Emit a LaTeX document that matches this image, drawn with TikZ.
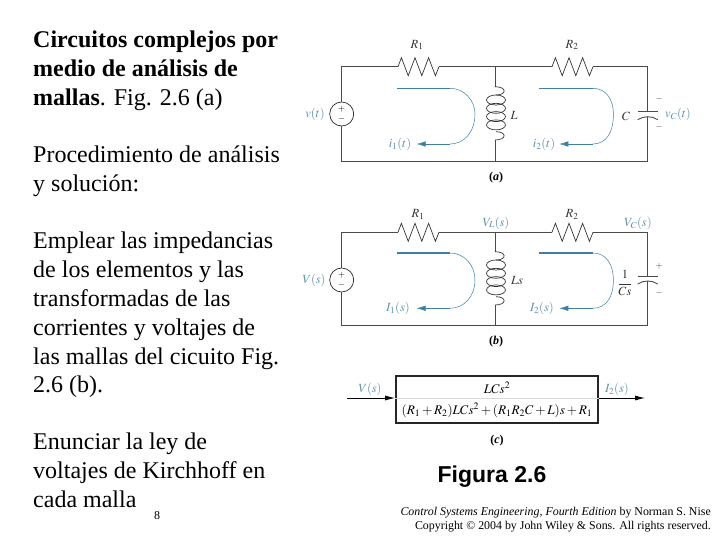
\documentclass[tikz,border=0pt]{standalone}
\usepackage[no-math]{fontspec}
\usepackage{mathptmx}
\usepackage{tikz}
\usetikzlibrary{arrows.meta}
\setmainfont{Liberation Serif}
\setsansfont{Liberation Sans}
\definecolor{wirecol}{HTML}{4A4A4A}
\definecolor{loopcol}{HTML}{3F7F9F}
\definecolor{bluetext}{HTML}{5E8FA8}
\tikzset{
    wire/.style={draw=wirecol, line width=0.9pt},
    zigzag/.style={draw=black!80, line width=0.7pt},
    turn/.style={draw=black!80, line width=0.7pt},
    sourcebox/.style={circle, draw=black!85, line width=0.7pt, minimum size=24pt, inner sep=0pt, align=center, font=\fontsize{9}{10}\selectfont},
    element/.style={font=\fontsize{12.5}{12.5}\selectfont, inner sep=0pt, text=black!80},
    signal/.style={font=\fontsize{12.5}{12.5}\selectfont, inner sep=0pt, text=bluetext},
    polarity/.style={font=\fontsize{9}{9}\selectfont, inner sep=0pt, text=black!80},
    caption/.style={font=\fontsize{12}{12}\selectfont\bfseries, inner sep=0pt},
    slide/.style={font=\fontsize{24}{28.8}\selectfont, align=left, anchor=north west, inner sep=0pt}
}
\begin{document}
\begin{tikzpicture}[x=1pt, y=-1pt]
    \useasboundingbox (0,0) rectangle (720,540);

    % Slide text
    \node[slide] (intro) at (33,31) {\textbf{Circuitos complejos por}\\\textbf{medio de análisis de}\\\textbf{mallas}. Fig. 2.6 (a)};
    \node[slide] (method) at (33,146) {Procedimiento de análisis\\y solución:};
    \node[slide] (imped) at (33,232) {Emplear las impedancias\\de los elementos y las\\transformadas de las\\corrientes y voltajes de\\las mallas del cicuito Fig.\\2.6 (b).};
    \node[slide] (kirch) at (33,433) {Enunciar la ley de\\voltajes de Kirchhoff en\\cada malla};
    \node[font=\fontsize{12}{12}\selectfont, inner sep=0pt] (page) at (157,516) {8};

    % Circuits (a) and (b)
    \foreach \c/\ytop/\ybot/\ymid/\yup/\ylow/\lup/\llow/\plate in {a/66.7/161/114/88.3/144/86.7/140/111.7, b/232.3/325/280/253/308.3/251.7/305/276} {
        \node[sourcebox] (s\c) at (341.7,\ymid) {$+$\\$-$};
        \coordinate (tl\c) at (341.7,\ytop);
        \coordinate (bl\c) at (341.7,\ybot);
        \coordinate (tm\c) at (495,\ytop);
        \coordinate (bm\c) at (495,\ybot);
        \coordinate (tr\c) at (647.7,\ytop);
        \coordinate (br\c) at (647.7,\ybot);
        \coordinate (ra\c) at (398,\ytop);
        \coordinate (rb\c) at (439,\ytop);
        \coordinate (rc\c) at (552,\ytop);
        \coordinate (rd\c) at (593,\ytop);
        \coordinate (la\c) at (495,\lup);
        \coordinate (lb\c) at (495,\llow);
        \coordinate (ca\c) at (647.7,\plate);
        \coordinate (cb\c) at (647.7,\plate+5);

        \draw[wire] (s\c) -- (tl\c) -- (ra\c);
        \draw[wire] (s\c) -- (bl\c) -- (br\c) -- (cb\c);
        \draw[wire] (rb\c) -- (rc\c);
        \draw[wire] (rd\c) -- (tr\c) -- (ca\c);
        \draw[wire] (tm\c) -- (la\c);
        \draw[wire] (lb\c) -- (bm\c);

        % Resistors
        \foreach \from/\to in {ra/rb, rc/rd} {
            \draw[zigzag] (\from\c) -- ++(3.4,-9) -- ++(6.8,18) -- ++(6.8,-18) -- ++(6.8,18) -- ++(6.8,-18) -- ++(6.8,18) -- (\to\c);
        }

        % Inductor
        \foreach \k in {0,1,2,3} {
            \draw[turn] (496,\lup+13.3+8.3*\k) ellipse [x radius=9.5pt, y radius=5pt];
        }
        \draw[turn] (la\c) .. controls (507,\lup) and (507,\lup+8.3) .. (496,\lup+8.3);
        \draw[turn] (lb\c) .. controls (507,\llow) and (507,\llow-8.3) .. (496,\llow-8.3);

        % Capacitor
        \draw[wire] ([xshift=-10pt]ca\c) -- ([xshift=10pt]ca\c);
        \draw[wire] ([xshift=-10pt,yshift=-3pt]cb\c) .. controls ([xshift=-4pt,yshift=1pt]cb\c) and ([xshift=4pt,yshift=1pt]cb\c) .. ([xshift=10pt,yshift=-3pt]cb\c);

        % Mesh currents
        \foreach \n/\x in {1/0, 2/142.7} {
            \coordinate (p\c\n) at (396.7+\x,\yup);
            \coordinate (q\c\n) at (450+\x,\yup);
            \coordinate (w\c\n) at (475+\x-0.03*\x,\ymid);
            \coordinate (e\c\n) at (450+\x,\ylow);
            \coordinate (t\c\n) at (416.7+\x,\ylow);
            \draw[loopcol, line width=1.2pt] (p\c\n) -- (q\c\n);
            \draw[loopcol, line width=0.5pt] (q\c\n) .. controls (464+\x,\yup) and (475+\x-0.03*\x,\yup+12) .. (w\c\n);
            \draw[loopcol, line width=0.5pt] (w\c\n) .. controls (475+\x-0.03*\x,\ylow-12) and (464+\x,\ylow) .. (e\c\n);
            \draw[loopcol, line width=0.5pt, -{Latex[length=9pt,width=5.5pt]}] (e\c\n) -- (t\c\n);
        }
    }

    % Labels of (a)
    \node[element] (r1a) at (417,45) {$R_1$};
    \node[element] (r2a) at (572,45) {$R_2$};
    \node[element] (lab) at (514,115) {$L$};
    \node[element] (cap) at (626,116) {$C$};
    \node[signal] (va) at (315,114) {$v(t)$};
    \node[signal] (i1a) at (400,144) {$i_1(t)$};
    \node[signal] (i2a) at (544,144) {$i_2(t)$};
    \node[signal] (vca) at (678,114) {$v_C(t)$};
    \node[polarity] (vcp) at (659,99) {$-$};
    \node[polarity] (vcm) at (659,127) {$-$};
    \node[caption] (capa) at (496,178) {(\textit{a})};

    % Labels of (b)
    \node[element] (r1b) at (418,214) {$R_1$};
    \node[element] (r2b) at (572,214) {$R_2$};
    \node[signal] (vl) at (496,223) {$V_L(s)$};
    \node[signal] (vc) at (638,223) {$V_C(s)$};
    \node[element] (lsb) at (517,281) {$Ls$};
    \node[element] (cs) at (625,283) {$\displaystyle\frac{1}{Cs}$};
    \node[signal] (vb) at (314,280) {$V(s)$};
    \node[signal] (i1b) at (398,308) {$I_1(s)$};
    \node[signal] (i2b) at (542,308) {$I_2(s)$};
    \node[polarity] (cpb) at (659,266) {$+$};
    \node[polarity] (cmb) at (659,293) {$-$};
    \node[caption] (capb) at (496,342) {(\textit{b})};

    % Block diagram
    \node[draw=black!85, line width=1.8pt, minimum width=202pt, minimum height=47pt, inner sep=0pt] (tf) at (497,399.5) {};
    \coordinate (in) at (347,398);
    \coordinate (out) at (645,398);
    \draw[line width=0.8pt, -{Latex[length=10pt,width=5pt]}] (in) -- (in -| tf.west);
    \draw[line width=0.8pt, -{Latex[length=10pt,width=5pt]}] (tf.east |- out) -- (out);
    \draw[black!15, line width=0.6pt] (tf.west |- in) -- (tf.east |- in);
    \node[inner sep=0pt, font=\fontsize{13.2}{13.2}\selectfont] (num) at (497,388) {$LCs^2$};
    \node[inner sep=0pt, font=\fontsize{13.2}{13.2}\selectfont] (den) at (497,410) {$(R_1+R_2)LCs^2+(R_1R_2C+L)s+R_1$};
    \node[signal] (vs) at (370,389) {$V(s)$};
    \node[signal] (ios) at (617,389) {$I_2(s)$};
    \node[caption] (capc) at (497,441) {(\textit{c})};

    % Figure title and credit
    \node[inner sep=0pt, font=\sffamily\bfseries\fontsize{23}{23}\selectfont] (fig) at (492,477) {Figura 2.6};
    \node[inner sep=0pt, anchor=south east, align=right, font=\fontsize{11.9}{13.5}\selectfont] (credit) at (711,532) {\textit{Control Systems Engineering, Fourth Edition} by Norman S. Nise\\Copyright © 2004 by John Wiley \& Sons. All rights reserved.};
\end{tikzpicture}
\end{document}
